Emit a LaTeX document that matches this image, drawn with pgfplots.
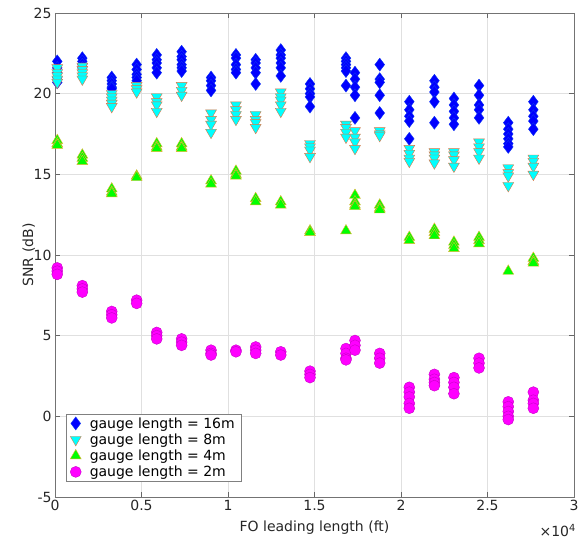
\documentclass[border=0pt]{standalone}
\usepackage{pgfplots}
\pgfplotsset{compat=1.18}
\usepackage{fontspec}
\setmainfont{DejaVu Sans}
\definecolor{axgray}{gray}{0.15}
\definecolor{mblue}{rgb}{0,0,1}
\definecolor{mcyan}{rgb}{0,1,1}
\definecolor{mgreen}{rgb}{0,1,0}
\definecolor{mmag}{rgb}{1,0,1}
\definecolor{bedge}{rgb}{0.05,0.2,0.95}
\definecolor{cedge}{RGB}{228,115,65}
\definecolor{gedge}{RGB}{230,180,50}
\definecolor{medge}{RGB}{200,0,200}
\begin{document}
\begin{tikzpicture}[font=\fontsize{14}{16}\selectfont]
\useasboundingbox (-55pt,-43pt) rectangle (526pt,497pt);
\begin{axis}[
  at={(0pt,0pt)}, anchor=south west, scale only axis,
  width=519pt, height=484pt,
  xmin=0, xmax=30000, ymin=-5, ymax=25,
  xtick={0,5000,10000,15000,20000,25000,30000},
  xticklabels={0,0.5,1,1.5,2,2.5,3},
  ytick={-5,0,5,10,15,20,25},
  yticklabels={-5,0,5,10,15,20,25},
  scaled x ticks=false,
  ticklabel style={text=axgray},
  tick align=inside, major tick length=5pt,
  tick style={black!60, line width=0.5pt},
  axis line style={black!55, line width=0.6pt},
  grid=major, major grid style={black!12, line width=0.5pt},
  xlabel={FO leading length (ft)}, ylabel={SNR (dB)},
  every axis x label/.style={at={(axis description cs:0.5,-0.0723)}, anchor=base, text=axgray},
  every axis y label/.style={at={(axis description cs:-0.042,0.5)}, rotate=90, anchor=base, text=axgray},
  legend style={at={(rel axis cs:0.0212,0.0316)}, anchor=south west, draw=black!50, fill=white, line width=0.5pt, inner xsep=4pt, inner ysep=1.5pt, row sep=0pt, column sep=6pt, nodes={inner ysep=2pt, inner xsep=2.5pt}, font=\fontsize{14}{16}\selectfont},
  legend cell align=left,
]
\addplot[only marks, mark=diamond*, mark size=6.5pt, mark options={fill=mblue, draw=bedge, line width=0.4pt}] coordinates {
(130,22.0)(130,21.6)(130,21.3)(130,21.0)(130,20.7)
(1580,22.2)(1580,22.0)(1580,21.8)(1580,21.6)
(3280,21.0)(3280,20.8)(3280,20.6)(3280,20.4)(3280,20.3)
(4720,21.8)(4720,21.5)(4720,21.2)(4720,21.0)(4720,20.8)
(5880,22.4)(5880,22.1)(5880,21.9)(5880,21.6)(5880,21.3)
(7320,22.6)(7320,22.3)(7320,22.1)(7320,21.8)(7320,21.6)(7320,21.4)
(9020,21.0)(9020,20.8)(9020,20.5)(9020,20.2)
(10460,22.4)(10460,22.2)(10460,21.8)(10460,21.5)(10460,21.3)
(11600,22.1)(11600,21.9)(11600,21.6)(11600,21.3)(11600,20.6)
(13050,22.7)(13050,22.4)(13050,22.2)(13050,21.9)(13050,21.6)(13050,21.1)
(14740,20.6)(14740,20.3)(14740,20.0)(14740,19.8)(14740,19.2)
(16820,22.2)(16820,22.0)(16820,21.8)(16820,21.6)(16820,21.4)(16820,20.5)
(17340,21.3)(17340,20.9)(17340,20.4)(17340,19.9)(17340,18.5)
(18770,21.8)(18770,20.9)(18770,20.7)(18770,19.9)(18770,18.8)
(20480,19.5)(20480,19.0)(20480,18.6)(20480,18.3)(20480,17.2)
(21930,20.8)(21930,20.4)(21930,20.1)(21930,19.5)(21930,18.2)
(23060,19.7)(23060,19.3)(23060,18.9)(23060,18.5)(23060,18.1)
(24510,20.5)(24510,19.9)(24510,19.3)(24510,19.0)(24510,18.5)
(26200,18.2)(26200,17.8)(26200,17.5)(26200,17.2)(26200,16.9)(26200,16.7)
(27650,19.5)(27650,19.0)(27650,18.6)(27650,18.3)(27650,17.8)
};
\addlegendentry{gauge length = 16m}
\addplot[only marks, mark=triangle*, mark size=6.3pt, mark options={rotate=180, fill=mcyan, draw=cedge, line width=0.4pt}] coordinates {
(130,21.6)(130,21.3)(130,21.1)(130,20.9)(130,20.7)
(1580,21.7)(1580,21.5)(1580,21.3)(1580,21.1)(1580,20.9)
(3280,20.0)(3280,19.8)(3280,19.6)(3280,19.4)(3280,19.2)
(4720,20.5)(4720,20.3)(4720,20.1)
(5880,19.8)(5880,19.5)(5880,19.3)(5880,18.9)
(7320,20.5)(7320,20.2)(7320,19.9)
(9020,18.8)(9020,18.4)(9020,18.1)(9020,17.6)
(10460,19.3)(10460,19.0)(10460,18.7)(10460,18.4)
(11600,18.7)(11600,18.4)(11600,18.2)(11600,17.9)
(13050,20.1)(13050,19.8)(13050,19.6)(13050,19.3)(13050,18.9)
(14740,16.9)(14740,16.7)(14740,16.5)(14740,16.1)
(16820,18.1)(16820,17.9)(16820,17.6)(16820,17.3)
(17340,17.7)(17340,17.3)(17340,17.0)(17340,16.6)
(18770,17.7)(18770,17.5)(18770,17.4)
(20480,16.6)(20480,16.3)(20480,16.0)(20480,15.8)
(21930,16.4)(21930,16.2)(21930,16.0)(21930,15.7)
(23060,16.4)(23060,16.2)(23060,15.9)(23060,15.5)
(24510,17.0)(24510,16.7)(24510,16.4)(24510,16.0)
(26200,15.4)(26200,15.1)(26200,14.9)(26200,14.3)
(27650,16.0)(27650,15.8)(27650,15.5)(27650,15.0)
};
\addlegendentry{gauge length = 8m}
\addplot[only marks, mark=triangle*, mark size=6.3pt, mark options={fill=mgreen, draw=gedge, line width=0.4pt}] coordinates {
(130,17.1)(130,16.9)(130,16.8)
(1580,16.2)(1580,16.0)(1580,15.8)
(3280,14.1)(3280,13.9)(3280,13.8)
(4720,14.9)(4720,14.8)
(5880,16.9)(5880,16.7)(5880,16.6)
(7320,16.9)(7320,16.7)(7320,16.6)
(9020,14.6)(9020,14.4)
(10460,15.2)(10460,15.0)(10460,14.9)
(11600,13.5)(11600,13.3)
(13050,13.3)(13050,13.1)
(14740,11.5)(14740,11.4)
(16820,11.5)
(17340,13.7)(17340,13.3)(17340,13.1)(17340,13.0)
(18770,13.1)(18770,12.9)(18770,12.8)
(20480,11.1)(20480,10.9)
(21930,11.6)(21930,11.4)(21930,11.2)
(23060,10.8)(23060,10.6)(23060,10.4)
(24510,11.1)(24510,10.9)(24510,10.7)
(26200,9.0)
(27650,9.8)(27650,9.6)(27650,9.5)
};
\addlegendentry{gauge length = 4m}
\addplot[only marks, mark=*, mark size=5.5pt, mark options={fill=mmag, draw=medge, line width=0.4pt}] coordinates {
(130,9.2)(130,9.0)(130,8.8)
(1580,8.1)(1580,7.9)(1580,7.7)
(3280,6.5)(3280,6.3)(3280,6.1)
(4720,7.2)(4720,7.0)
(5880,5.2)(5880,5.0)(5880,4.8)
(7320,4.8)(7320,4.6)(7320,4.4)
(9020,4.1)(9020,3.9)(9020,3.8)
(10460,4.1)(10460,4.0)
(11600,4.3)(11600,4.1)(11600,3.9)
(13050,4.0)(13050,3.8)
(14740,2.8)(14740,2.6)(14740,2.4)
(16820,4.2)(16820,3.9)(16820,3.6)(16820,3.5)
(17340,4.7)(17340,4.4)(17340,4.1)
(18770,3.9)(18770,3.6)(18770,3.3)
(20480,1.8)(20480,1.5)(20480,1.2)(20480,0.8)(20480,0.5)
(21930,2.6)(21930,2.3)(21930,2.1)(21930,1.9)
(23060,2.4)(23060,2.1)(23060,1.8)(23060,1.4)
(24510,3.6)(24510,3.3)(24510,3.0)
(26200,0.9)(26200,0.6)(26200,0.3)(26200,0.0)(26200,-0.2)
(27650,1.5)(27650,1.0)(27650,0.8)(27650,0.5)
};
\addlegendentry{gauge length = 2m}
\end{axis}
\node[anchor=base east, inner sep=0pt, text=axgray] at (521pt,-40pt) {×10\textsuperscript{4}};
\end{tikzpicture}
\end{document}
